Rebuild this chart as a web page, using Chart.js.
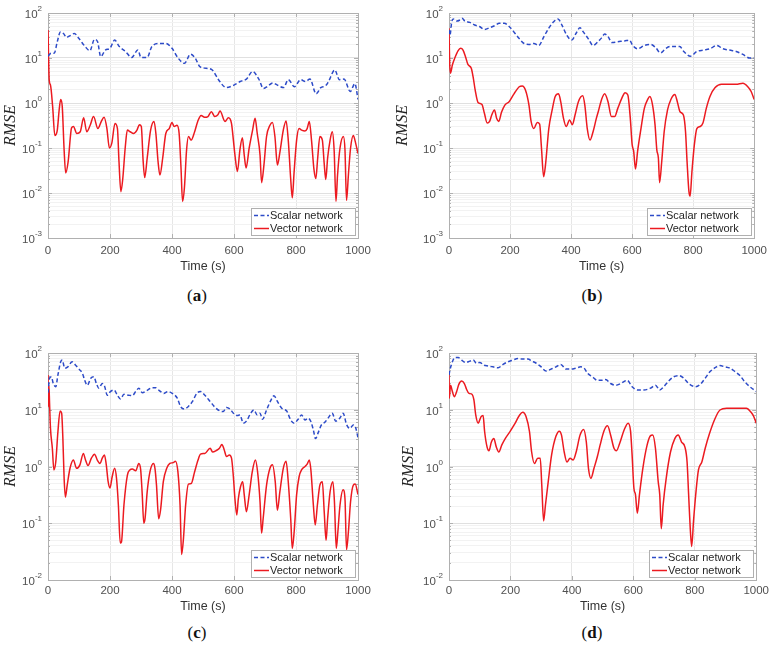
<!DOCTYPE html>
<html>
<head>
<meta charset="utf-8">
<script src="https://cdn.jsdelivr.net/npm/chart.js@4.4.0/dist/chart.umd.min.js"></script>
<style>
  body { margin: 0; background: #fff; width: 773px; height: 650px; position: relative; overflow: hidden; }
  canvas { position: absolute; }
  .cap { position: absolute; width: 60px; margin-left: -30px; text-align: center; line-height: 20px;
         font-family: "Liberation Serif", "DejaVu Serif", serif; font-size: 17px; color: #111; }
</style>
</head>
<body>
<canvas id="pa" width="386" height="275" style="left:0;top:0"></canvas>
<canvas id="pb" width="386" height="275" style="left:387px;top:0"></canvas>
<canvas id="pc" width="386" height="275" style="left:0;top:340px"></canvas>
<canvas id="pd" width="386" height="275" style="left:387px;top:340px"></canvas>
<div class="cap" style="left:197px;top:286px">(<b>a</b>)</div>
<div class="cap" style="left:592px;top:286px">(<b>b</b>)</div>
<div class="cap" style="left:197px;top:623px">(<b>c</b>)</div>
<div class="cap" style="left:592px;top:623px">(<b>d</b>)</div>
<script>
// series labels and axis ticks
const seriesLabels = ["Scalar network", "Vector network"];
const xTicks = [0, 200, 400, 600, 800, 1000];

// (a)
const timeAScalar = [0,10,20,30,40,50,60,70,85,100,120,135,150,160,170,185,200,215,230,250,270,290,300,320,335,360,380,400,420,440,460,475,490,510,530,550,575,600,620,640,660,680,695,710,725,740,760,775,795,815,830,845,865,880,895,905,925,940,955,975,990,1000];
const rmseAScalar = [11,12.7,12.7,23,38,35,28.7,31,35,27,17.9,14.5,26,23,10.7,15,16.4,25,18,13.9,10.3,15,10.3,10.3,18,21,21,16.4,9.9,7.6,12.2,9.9,6.4,5.9,5.4,3.3,2.2,2.5,3.0,3.4,5.0,3.4,2.1,2.4,2.8,2.5,2.2,3.3,2.3,3.3,3.0,3.4,1.6,2.2,2.4,3.0,5.4,3.3,3.4,1.8,2.7,1.2];
const timeAVector = [0,4,8,15,22,30,36,41,46,52,57,65,76,82,93,104,115,125,136,147,161,172,181,190,198,206,216,224,229,235,241,249,256,265,276,287,295,301,307,312,320,331,342,348,355,361,370,380,391,400,407,416,423,429,434,440,447,453,462,473,483,494,505,516,527,538,548,555,571,582,592,598,603,611,619,627,633,639,649,660,668,675,684,689,697,705,716,724,732,740,748,759,768,775,783,788,794,802,810,818,829,836,843,850,858,864,870,877,885,891,896,902,910,917,923,929,934,942,953,958,963,969,976,985,990,1000];
const rmseAVector = [42,3.2,2.5,0.83,0.19,0.25,0.7,1.2,0.83,0.09,0.028,0.05,0.28,0.3,0.21,0.23,0.47,0.23,0.32,0.5,0.27,0.39,0.48,0.27,0.1,0.13,0.35,0.27,0.05,0.0107,0.02,0.1,0.25,0.23,0.21,0.25,0.33,0.3,0.05,0.022,0.06,0.25,0.39,0.21,0.05,0.025,0.06,0.21,0.27,0.37,0.3,0.32,0.21,0.037,0.0065,0.013,0.09,0.18,0.15,0.23,0.39,0.53,0.48,0.5,0.64,0.5,0.55,0.66,0.39,0.47,0.35,0.15,0.07,0.03,0.09,0.17,0.07,0.036,0.1,0.25,0.46,0.21,0.07,0.017,0.045,0.18,0.32,0.37,0.18,0.042,0.08,0.25,0.4,0.15,0.02,0.0078,0.03,0.15,0.27,0.25,0.24,0.27,0.39,0.15,0.033,0.021,0.06,0.18,0.15,0.045,0.02,0.06,0.15,0.23,0.09,0.0065,0.025,0.1,0.18,0.09,0.0068,0.025,0.1,0.19,0.15,0.075];

// (b)
const timeBScalar = [0,3,9,14,25,36,43,52,68,84,100,116,133,149,165,181,197,214,230,246,262,278,294,311,327,343,357,370,386,402,416,429,440,456,472,488,500,510,521,534,553,575,591,602,618,640,661,677,693,709,725,742,756,769,791,812,834,855,877,898,920,941,963,985,1000];
const rmseBScalar = [42,32,64,74,66,70,76,66,62,54,50,43,47,52,59,59,50,37,27,21,20,21,19,30,46,64,74,54,32,25,35,47,38,27,19,23,28,34,30,22,23,24,25,19,16,19,20,17,13,16,18,18,18,14,11,14,15,16,19,16,15,14,12,10,10];
const timeBVector = [0,2,5,11,19,30,38,46,54,62,73,79,86,95,108,116,125,133,140,149,156,163,172,183,197,213,230,240,251,262,269,278,289,297,303,310,316,327,338,348,359,366,375,384,395,404,413,424,438,445,453,462,472,483,489,500,510,521,532,543,553,566,577,586,594,600,605,611,618,629,640,651,658,667,675,681,686,690,697,705,716,727,740,748,757,768,775,780,786,790,796,804,812,823,832,843,855,872,893,920,941,963,979,990,1000];
const rmseBVector = [46,8.3,4.6,7,10,14.6,16.4,15,10.7,7.2,5.9,3.8,1.9,1.03,0.93,0.59,0.36,0.39,0.54,0.7,0.46,0.39,0.62,0.9,1.07,1.6,2.3,2.4,1.9,0.9,0.39,0.27,0.37,0.34,0.1,0.023,0.041,0.27,0.7,1.4,1.6,1.07,0.46,0.3,0.42,0.33,0.54,1.07,1.45,0.9,0.27,0.15,0.23,0.46,0.64,1.2,1.6,1.07,0.5,0.5,0.76,1.27,1.7,1.5,0.46,0.12,0.085,0.034,0.085,0.27,0.76,1.2,1.4,0.9,0.33,0.09,0.06,0.017,0.05,0.23,0.7,1.2,1.55,1.07,0.64,0.54,0.23,0.05,0.011,0.0085,0.03,0.12,0.27,0.3,0.36,0.76,1.4,2.2,2.6,2.6,2.6,2.75,2.3,1.8,1.2];

// (c)
const timeCScalar = [0,5,11,17,25,32,41,46,54,64,78,89,100,111,118,127,138,148,156,164,175,183,191,202,213,224,234,245,261,272,283,293,304,320,336,347,358,374,387,401,417,428,439,452,466,480,492,506,523,539,555,565,576,587,598,611,619,630,640,654,664,675,684,692,705,718,729,740,754,770,783,794,807,818,829,839,848,856,863,872,882,893,904,917,928,942,952,963,974,985,993,1000];
const rmseCScalar = [20,36,38,29,25.5,41,70,75,54,57,70,61,52,44,33.5,27,36,38,29,24,29,25.5,18,21,22.3,18,15.5,18.7,18,17.7,21,24,20,22,24.5,24.5,22,19.4,21,19.4,16,11.3,10.3,11.3,14,19.4,21,18,14,11,9.5,9.3,11,10.3,8.7,7.9,8.1,5.8,6.3,8.7,9.9,8.1,8.7,6.8,9.9,14.3,17.6,14,10.6,9.5,6.6,5.8,6.8,8.1,6.6,7.1,6.2,4.4,3.1,4,5.4,6,7.2,8.7,6.3,7.2,8.7,5.5,4.7,5.4,4.7,3.2];
const timeCVector = [0,1,3,5,8,14,19,25,32,39,44,48,52,56,62,71,82,92,103,114,121,129,140,150,159,168,175,182,188,194,200,207,215,221,227,233,237,245,256,264,272,283,293,299,304,309,313,320,329,340,345,350,357,363,372,383,393,404,411,419,426,431,437,444,453,462,473,484,492,506,523,531,542,553,561,568,576,585,592,598,603,609,614,621,628,633,640,649,659,669,676,684,689,694,705,716,724,733,740,748,759,768,775,783,788,794,802,810,818,829,836,843,848,856,862,869,877,885,891,897,902,910,919,924,930,935,942,952,958,963,969,976,985,991,1000];
const rmseCVector = [41,11.3,27,13,4.7,2.1,0.87,1.2,4.1,9.5,8.7,3.1,0.62,0.29,0.47,0.93,1.3,0.93,1.07,1.7,1.3,1.04,1.4,1.65,1.3,1.13,1.4,1.6,1.07,0.54,0.42,0.66,0.93,0.62,0.21,0.045,0.047,0.21,0.7,0.87,0.9,0.84,1.13,0.87,0.32,0.1,0.12,0.36,0.81,1.13,0.93,0.47,0.12,0.17,0.54,0.93,1.13,1.17,1.24,0.81,0.21,0.028,0.054,0.21,0.49,0.5,0.81,1.3,1.65,1.7,2.1,1.8,1.9,2.1,2.45,2.0,1.5,1.6,1.4,0.66,0.27,0.14,0.27,0.44,0.54,0.32,0.16,0.32,0.81,1.3,0.81,0.24,0.067,0.12,0.47,0.93,1.07,0.54,0.17,0.36,0.93,1.24,0.54,0.12,0.036,0.07,0.32,0.66,0.87,1.0,1.1,1.3,0.87,0.21,0.093,0.21,0.47,0.54,0.16,0.05,0.12,0.36,0.54,0.24,0.036,0.07,0.21,0.39,0.27,0.034,0.07,0.24,0.47,0.49,0.32];

// (d)
const timeDScalar = [0,3,11,19,30,41,54,68,79,89,100,114,127,143,160,176,192,208,224,240,257,270,284,300,316,332,348,364,381,397,413,429,440,451,467,483,499,510,526,543,559,580,596,613,634,656,672,686,699,715,731,748,764,780,802,818,834,850,866,882,898,915,931,947,963,979,990,1000];
const rmseDScalar = [41,50,70,83,83,75,68,72,75,66,68,61,59,57,55,63,70,75,80,78,78,72,66,57,48,52,57,63,52,52,54,57,54,44,38,33,33,34,29,27,29,33,25.5,22.3,22.3,24,27,22.3,25.5,32,38,40,36,29,25.5,28,36,47,55,60,57,54,47,40,31,25.5,23,21];
const timeDVector = [0,1,5,11,17,25,32,41,50,57,65,73,81,87,95,104,111,116,124,130,138,146,154,162,172,183,197,213,230,240,251,262,269,278,289,297,302,308,314,323,334,348,359,366,375,384,394,404,415,426,438,447,454,462,472,483,492,505,516,526,537,545,556,570,583,591,596,602,607,613,620,631,645,656,663,672,681,686,691,697,707,721,735,746,757,768,775,780,786,790,796,804,812,823,834,848,864,882,904,925,947,968,982,992,1000];
const rmseDVector = [44,16,27,21,17,21,28,32,29,23,19.4,19,15,8.1,5.8,7.5,7.9,4.1,2.2,1.9,2.7,3.1,2.2,1.8,2.4,3.1,4,5.5,8.1,9,7.5,4.1,1.8,1.13,1.4,1.4,0.47,0.11,0.21,0.54,1.6,3.4,4.2,3.6,1.8,1.2,1.4,1.3,1.9,3.5,4.5,2.7,0.93,0.62,0.93,1.5,2.4,4.3,5.2,3.6,2.1,1.9,2.6,4.4,5.8,4.2,1.6,0.41,0.32,0.15,0.32,0.93,2.4,3.5,3.6,2.1,0.54,0.32,0.08,0.21,0.62,1.8,3.1,3.6,2.7,2.2,1.2,0.32,0.07,0.039,0.11,0.36,0.87,1.2,2.1,3.8,6.6,9.9,10.6,10.6,10.6,10.6,9.2,7.6,5.8];

const tickFont = '"Liberation Sans", Arial, sans-serif';

// frame box and inward tick marks, like MATLAB axes
const axesBox = {
  id: 'axesBox',
  beforeDatasetsDraw(chart) {
    const { ctx, chartArea: a, scales } = chart;
    ctx.save();
    ctx.strokeStyle = '#b0b0b0';
    ctx.lineWidth = 1;
    ctx.beginPath();
    scales.x.ticks.forEach(t => {
      const px = Math.round(scales.x.getPixelForValue(t.value)) + 0.5;
      ctx.moveTo(px, a.bottom); ctx.lineTo(px, a.bottom - 4);
      ctx.moveTo(px, a.top); ctx.lineTo(px, a.top + 4);
    });
    scales.y.ticks.forEach(t => {
      const py = Math.round(scales.y.getPixelForValue(t.value)) + 0.5;
      const len = isDecade(t.value) ? 4 : 2;
      ctx.moveTo(a.left, py); ctx.lineTo(a.left + len, py);
      ctx.moveTo(a.right, py); ctx.lineTo(a.right - len, py);
    });
    ctx.stroke();
    ctx.strokeRect(Math.round(a.left) + 0.5, Math.round(a.top) + 0.5,
      Math.round(a.right - a.left), Math.round(a.bottom - a.top));
    ctx.restore();
  }
};

// legend box in the lower right corner of the plot
const insideLegend = {
  id: 'insideLegend',
  afterDatasetsDraw(chart) {
    const { ctx, chartArea: a } = chart;
    const sets = chart.data.datasets;
    ctx.save();
    ctx.font = '11px ' + tickFont;
    const tw = Math.max(...sets.map(d => ctx.measureText(d.label).width));
    const w = Math.round(3 + 15 + 2 + tw + 11), h = 27;
    const x = Math.round(a.right) - 3 - w, y = Math.round(a.bottom) - 3 - h;
    ctx.fillStyle = '#fff';
    ctx.fillRect(x, y, w, h);
    ctx.strokeStyle = '#b0b0b0';
    ctx.lineWidth = 1;
    ctx.strokeRect(x + 0.5, y + 0.5, w, h);
    sets.forEach((d, i) => {
      const cy = y + 7.5 + i * 13;
      ctx.strokeStyle = d.borderColor;
      ctx.lineWidth = 1.5;
      ctx.setLineDash(d.borderDash || []);
      ctx.beginPath();
      ctx.moveTo(x + 3, cy); ctx.lineTo(x + 18, cy);
      ctx.stroke();
      ctx.setLineDash([]);
      ctx.fillStyle = '#262626';
      ctx.textBaseline = 'middle';
      ctx.textAlign = 'left';
      ctx.fillText(d.label, x + 19, cy);
    });
    ctx.restore();
  }
};

// 10^n labels with raised exponents
const powerLabels = {
  id: 'powerLabels',
  afterDraw(chart) {
    const { ctx, chartArea: a, scales } = chart;
    ctx.save();
    ctx.fillStyle = '#505050';
    ctx.textBaseline = 'middle';
    ctx.textAlign = 'left';
    scales.y.ticks.filter(t => isDecade(t.value)).forEach(t => {
      const py = scales.y.getPixelForValue(t.value);
      const e = String(Math.round(Math.log10(t.value)));
      ctx.font = '8px ' + tickFont;
      const ew = ctx.measureText(e).width;
      ctx.font = '11.5px ' + tickFont;
      const bw = ctx.measureText('10').width;
      const right = a.left - 6;
      ctx.fillText('10', right - ew - bw, py + 2);
      ctx.font = '8px ' + tickFont;
      ctx.fillText(e, right - ew, py - 4);
    });
    ctx.restore();
  }
};

function isDecade(v) {
  const l = Math.log10(v);
  return Math.abs(l - Math.round(l)) < 1e-9;
}

function logTicks(minExp, maxExp) {
  const out = [];
  for (let e = minExp; e < maxExp; e++) {
    for (let m = 1; m <= 9; m++) out.push(+(m * Math.pow(10, e)).toPrecision(6));
  }
  out.push(Math.pow(10, maxExp));
  return out;
}

function pts(t, v) {
  return t.map((x, i) => ({ x: x, y: v[i] }));
}

function makePanel(id, geo, tS, yS, tV, yV, minExp) {
  const yTicks = logTicks(minExp, 2);
  new Chart(document.getElementById(id), {
    type: 'line',
    data: {
      datasets: [
        { label: seriesLabels[0], data: pts(tS, yS), borderColor: 'rgb(45,75,200)', borderWidth: 1.5,
          borderDash: [4, 2.5], pointRadius: 0, cubicInterpolationMode: 'monotone' },
        { label: seriesLabels[1], data: pts(tV, yV), borderColor: 'rgb(236,26,32)', borderWidth: 1.5,
          pointRadius: 0, cubicInterpolationMode: 'monotone' }
      ]
    },
    options: {
      responsive: false,
      animation: false,
      layout: { padding: { top: 13, right: geo.pr, bottom: 0, left: 0 } },
      plugins: { legend: { display: false }, tooltip: { enabled: false } },
      scales: {
        x: {
          type: 'linear', min: 0, max: 1000,
          afterBuildTicks: s => { s.ticks = xTicks.map(v => ({ value: v })); },
          afterFit: s => { s.height = geo.xh; },
          grid: { color: '#e6e6e6', drawTicks: false },
          border: { display: false },
          ticks: { padding: geo.tp, color: '#505050', font: { family: tickFont, size: 11.5 },
                   callback: v => String(v) },
          title: { display: true, text: 'Time (s)', color: '#333', padding: { top: 0, bottom: 1 },
                   font: { family: tickFont, size: 12.5 } }
        },
        y: {
          type: 'logarithmic', min: Math.pow(10, minExp), max: 100,
          afterBuildTicks: s => { s.ticks = yTicks.map(v => ({ value: v })); },
          afterFit: s => { s.width = geo.yw; },
          grid: { color: c => isDecade(c.tick.value) ? '#e0e0e0' : '#f2f2f2', drawTicks: false },
          border: { display: false },
          ticks: { display: false },
          title: { display: true, text: 'RMSE', color: '#222', padding: { top: geo.yt, bottom: 0 },
                   font: { family: '"Liberation Serif", "DejaVu Serif", serif', size: 16, style: 'italic' } }
        }
      }
    },
    plugins: [axesBox, insideLegend, powerLabels]
  });
}

makePanel('pa', { pr: 28, yw: 48, xh: 37, tp: 6, yt: 1 }, timeAScalar, rmseAScalar, timeAVector, rmseAVector, -3);
makePanel('pb', { pr: 15, yw: 62, xh: 37, tp: 6, yt: 6 }, timeBScalar, rmseBScalar, timeBVector, rmseBVector, -3);
makePanel('pc', { pr: 28, yw: 48, xh: 35, tp: 4, yt: 1 }, timeCScalar, rmseCScalar, timeCVector, rmseCVector, -2);
makePanel('pd', { pr: 15, yw: 62, xh: 35, tp: 4, yt: 12 }, timeDScalar, rmseDScalar, timeDVector, rmseDVector, -2);
</script>
</body>
</html>
